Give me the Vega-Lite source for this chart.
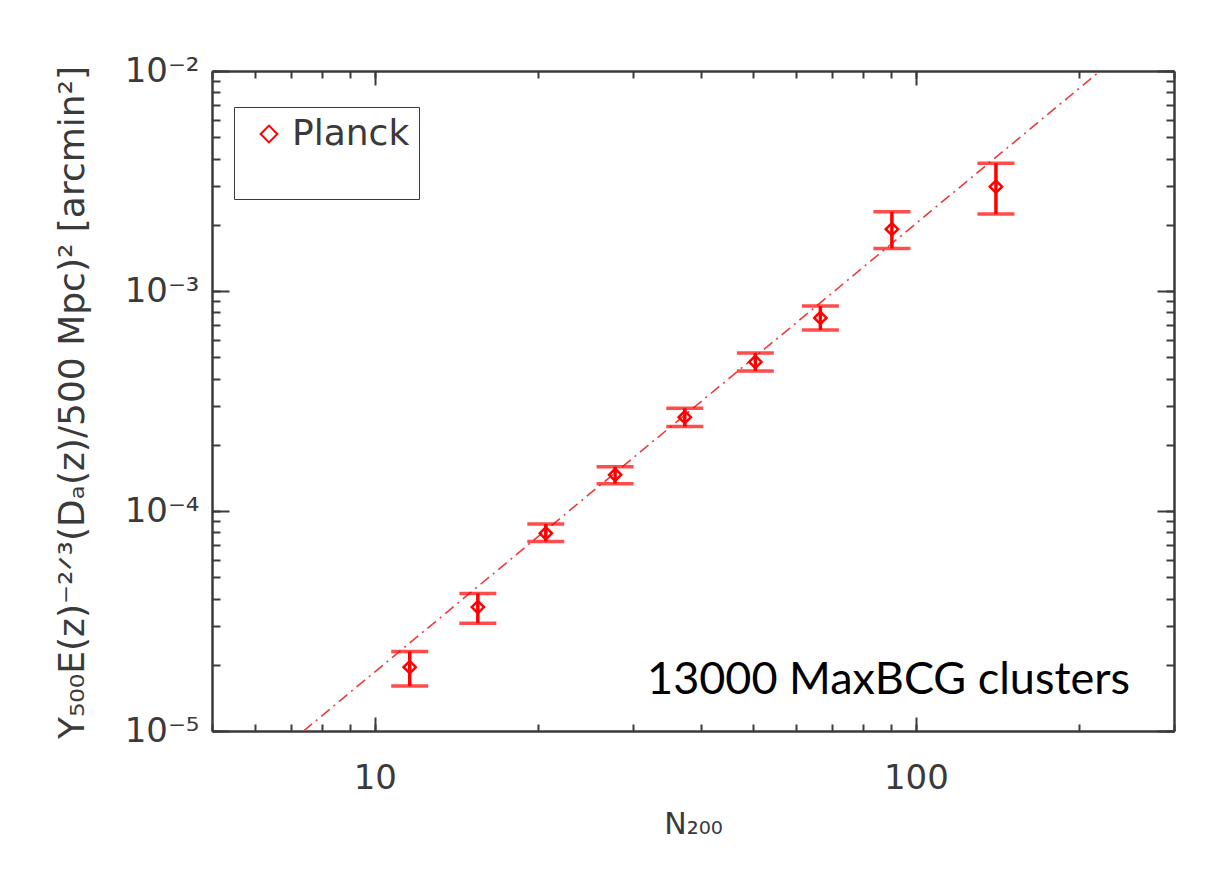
{
  "$schema": "https://vega.github.io/schema/vega-lite/v6.json",
  "autosize": {"type": "none"},
  "width": 962,
  "height": 660,
  "padding": {"left": 212, "top": 71, "right": 51, "bottom": 139},
  "background": "white",
  "config": {"view": {"stroke": null}, "font": "DejaVu Sans"},
  "datasets": {
    "bins": [
      {"N": 11.6, "Y": 1.95e-5, "lo": 1.60e-5, "hi": 2.30e-5, "series": "Planck"},
      {"N": 15.5, "Y": 3.66e-5, "lo": 3.09e-5, "hi": 4.22e-5, "series": "Planck"},
      {"N": 20.7, "Y": 7.92e-5, "lo": 7.26e-5, "hi": 8.73e-5, "series": "Planck"},
      {"N": 27.8, "Y": 1.46e-4, "lo": 1.33e-4, "hi": 1.59e-4, "series": "Planck"},
      {"N": 37.4, "Y": 2.67e-4, "lo": 2.42e-4, "hi": 2.93e-4, "series": "Planck"},
      {"N": 50.5, "Y": 4.76e-4, "lo": 4.33e-4, "hi": 5.23e-4, "series": "Planck"},
      {"N": 66.6, "Y": 7.54e-4, "lo": 6.65e-4, "hi": 8.55e-4, "series": "Planck"},
      {"N": 90.3, "Y": 1.91e-3, "lo": 1.56e-3, "hi": 2.29e-3, "series": "Planck"},
      {"N": 140.6, "Y": 2.98e-3, "lo": 2.24e-3, "hi": 3.81e-3, "series": "Planck"}
    ],
    "fit": [
      {"N": 7.38, "Y": 1e-5},
      {"N": 219, "Y": 1e-2}
    ],
    "note": [
      {"label": "13000 MaxBCG clusters", "N": 89, "Y": 1.71e-5}
    ]
  },
  "layer": [
    {
      "data": {"name": "fit"},
      "mark": {"type": "line", "color": "#ec3b3b", "strokeWidth": 1.6, "strokeDash": [11, 5, 2, 5], "clip": true},
      "encoding": {
        "x": {
          "field": "N", "type": "quantitative",
          "scale": {"type": "log", "domain": [5, 300], "nice": false},
          "axis": {
            "orient": "top", "title": null, "labels": false,
            "values": [5, 6, 7, 8, 9, 10, 20, 30, 40, 50, 60, 70, 80, 90, 100, 200, 300],
            "domainColor": "#3a3a3a", "domainWidth": 2.5, "tickColor": "#3a3a3a", "tickWidth": 2, "tickSize": -7,
            "grid": true, "gridColor": "#3a3a3a", "gridWidth": 2, "gridDash": [14, 3000],
            "gridOpacity": {"condition": {"test": "datum.value == 10 || datum.value == 100", "value": 1}, "value": 0}
          }
        },
        "y": {
          "field": "Y", "type": "quantitative",
          "scale": {"type": "log", "domain": [1e-5, 1e-2], "nice": false},
          "axis": {
            "orient": "right", "title": null, "labels": false,
            "values": [0.00001, 0.00002, 0.00003, 0.00004, 0.00005, 0.00006, 0.00007, 0.00008, 0.00009, 0.0001, 0.0002, 0.0003, 0.0004, 0.0005, 0.0006, 0.0007, 0.0008, 0.0009, 0.001, 0.002, 0.003, 0.004, 0.005, 0.006, 0.007, 0.008, 0.009, 0.01],
            "domainColor": "#3a3a3a", "domainWidth": 2.5, "tickColor": "#3a3a3a", "tickWidth": 2, "tickSize": -8,
            "grid": true, "gridColor": "#3a3a3a", "gridWidth": 2, "gridDash": [17, 3000],
            "gridOpacity": {"condition": {"test": "datum.value == 0.01 || datum.value == 0.001 || datum.value == 0.0001 || datum.value == 0.00001", "value": 1}, "value": 0}
          }
        }
      }
    },
    {
      "data": {"name": "bins"},
      "mark": {"type": "rule", "color": "#ff0000", "strokeWidth": 3.5},
      "encoding": {
        "x": {"field": "N", "type": "quantitative", "scale": {"type": "log", "domain": [5, 300], "nice": false}, "axis": null},
        "y": {"field": "lo", "type": "quantitative", "scale": {"type": "log", "domain": [1e-5, 1e-2], "nice": false}, "axis": null},
        "y2": {"field": "hi"}
      }
    },
    {
      "data": {"name": "bins"},
      "mark": {"type": "tick", "orient": "horizontal", "color": "#ff0000", "size": 37, "thickness": 3.5},
      "encoding": {
        "x": {"field": "N", "type": "quantitative", "scale": {"type": "log", "domain": [5, 300], "nice": false}, "axis": null},
        "y": {"field": "hi", "type": "quantitative", "scale": {"type": "log", "domain": [1e-5, 1e-2], "nice": false}, "axis": null}
      }
    },
    {
      "data": {"name": "bins"},
      "mark": {"type": "tick", "orient": "horizontal", "color": "#ff0000", "size": 37, "thickness": 3.5},
      "encoding": {
        "x": {"field": "N", "type": "quantitative", "scale": {"type": "log", "domain": [5, 300], "nice": false}, "axis": null},
        "y": {"field": "lo", "type": "quantitative", "scale": {"type": "log", "domain": [1e-5, 1e-2], "nice": false}, "axis": null}
      }
    },
    {
      "data": {"name": "bins"},
      "mark": {"type": "point", "shape": "diamond", "filled": false, "size": 150, "strokeWidth": 2.5, "opacity": 1},
      "encoding": {
        "x": {
          "field": "N", "type": "quantitative",
          "scale": {"type": "log", "domain": [5, 300], "nice": false},
          "axis": {
            "orient": "bottom", "title": "N₂₀₀",
            "values": [5, 6, 7, 8, 9, 10, 20, 30, 40, 50, 60, 70, 80, 90, 100, 200, 300],
            "labelExpr": "datum.value == 10 ? '10' : datum.value == 100 ? '100' : ''",
            "labelFont": "DejaVu Sans", "labelFontSize": 34, "labelColor": "#3a3a3a", "labelPadding": 37,
            "titleFont": "DejaVu Sans", "titleFontSize": 30, "titleFontWeight": "normal", "titleColor": "#3a3a3a",
            "titleX": 481, "titleY": 93, "titleAlign": "center", "titleBaseline": "middle",
            "domainColor": "#3a3a3a", "domainWidth": 2.5, "tickColor": "#3a3a3a", "tickWidth": 2, "tickSize": -7,
            "grid": true, "gridColor": "#3a3a3a", "gridWidth": 2, "gridDash": [14, 3000],
            "gridOpacity": {"condition": {"test": "datum.value == 10 || datum.value == 100", "value": 1}, "value": 0}
          }
        },
        "y": {
          "field": "Y", "type": "quantitative",
          "scale": {"type": "log", "domain": [1e-5, 1e-2], "nice": false},
          "axis": {
            "orient": "left", "title": "Y₅₀₀E(z)⁻²ᐟ³(Dₐ(z)/500 Mpc)² [arcmin²]",
            "values": [0.00001, 0.00002, 0.00003, 0.00004, 0.00005, 0.00006, 0.00007, 0.00008, 0.00009, 0.0001, 0.0002, 0.0003, 0.0004, 0.0005, 0.0006, 0.0007, 0.0008, 0.0009, 0.001, 0.002, 0.003, 0.004, 0.005, 0.006, 0.007, 0.008, 0.009, 0.01],
            "labelExpr": "datum.value == 0.01 ? '10⁻²' : datum.value == 0.001 ? '10⁻³' : datum.value == 0.0001 ? '10⁻⁴' : datum.value == 0.00001 ? '10⁻⁵' : ''",
            "labelFont": "DejaVu Sans", "labelFontSize": 34, "labelColor": "#3a3a3a", "labelPadding": 21,
            "titleFont": "DejaVu Sans", "titleFontSize": 36, "titleFontWeight": "normal", "titleColor": "#3a3a3a",
            "titleX": -140, "titleY": 331, "titleAngle": -90, "titleAlign": "center", "titleBaseline": "middle",
            "domainColor": "#3a3a3a", "domainWidth": 2.5, "tickColor": "#3a3a3a", "tickWidth": 2, "tickSize": -8,
            "grid": true, "gridColor": "#3a3a3a", "gridWidth": 2, "gridDash": [17, 3000],
            "gridOpacity": {"condition": {"test": "datum.value == 0.01 || datum.value == 0.001 || datum.value == 0.0001 || datum.value == 0.00001", "value": 1}, "value": 0}
          }
        },
        "color": {
          "field": "series", "type": "nominal",
          "scale": {"domain": ["Planck"], "range": ["#ff0000"]},
          "legend": {
            "orient": "none", "legendX": 22, "legendY": 36,
            "title": " ", "titleOrient": "bottom", "titleFontSize": 36, "titlePadding": 3,
            "strokeColor": "#3a3a3a", "fillColor": "white", "padding": 9,
            "symbolType": "diamond", "symbolSize": 280, "symbolStrokeWidth": 2, "symbolOffset": 8,
            "labelFont": "DejaVu Sans", "labelFontSize": 36, "labelColor": "#3a3a3a", "labelOffset": 5,
            "labelExpr": "datum.label + '\u00a0\u00a0'"
          }
        }
      }
    },
    {
      "data": {"name": "note"},
      "mark": {"type": "text", "font": "Lato", "fontSize": 45, "color": "#000", "align": "center", "baseline": "middle"},
      "encoding": {
        "x": {"field": "N", "type": "quantitative", "scale": {"type": "log", "domain": [5, 300], "nice": false}, "axis": null},
        "y": {"field": "Y", "type": "quantitative", "scale": {"type": "log", "domain": [1e-5, 1e-2], "nice": false}, "axis": null},
        "text": {"field": "label"}
      }
    }
  ],
  "resolve": {"axis": {"x": "independent", "y": "independent"}}
}
